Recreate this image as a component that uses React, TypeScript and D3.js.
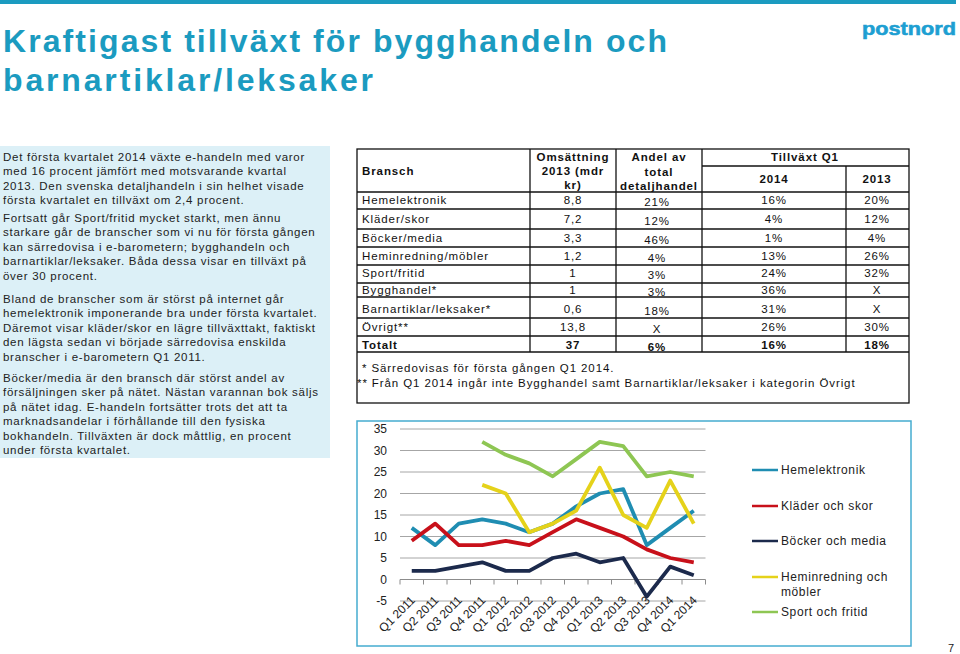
import React from "react";
import * as d3 from "d3";

const FONT = "'Liberation Sans', Arial, Helvetica, sans-serif";
const TEAL = "#1b9bc0";

const titleLines = ["Kraftigast tillväxt för bygghandeln och", "barnartiklar/leksaker"];

const paragraphs: string[][] = [
  [
    "Det första kvartalet 2014 växte e-handeln med varor",
    "med 16 procent jämfört med motsvarande kvartal",
    "2013. Den svenska detaljhandeln i sin helhet visade",
    "första kvartalet en tillväxt om 2,4 procent.",
  ],
  [
    "Fortsatt går Sport/fritid mycket starkt, men ännu",
    "starkare går de branscher som vi nu för första gången",
    "kan särredovisa i e-barometern; bygghandeln och",
    "barnartiklar/leksaker. Båda dessa visar en tillväxt på",
    "över 30 procent.",
  ],
  [
    "Bland de branscher som är störst på internet går",
    "hemelektronik imponerande bra under första kvartalet.",
    "Däremot visar kläder/skor en lägre tillväxttakt, faktiskt",
    "den lägsta sedan vi började särredovisa enskilda",
    "branscher i e-barometern Q1 2011.",
  ],
  [
    "Böcker/media är den bransch där störst andel av",
    "försäljningen sker på nätet. Nästan varannan bok säljs",
    "på nätet idag. E-handeln fortsätter trots det att ta",
    "marknadsandelar i förhållande till den fysiska",
    "bokhandeln. Tillväxten är dock måttlig, en procent",
    "under första kvartalet.",
  ],
];

// Table data
const branscher = [
  "Hemelektronik",
  "Kläder/skor",
  "Böcker/media",
  "Heminredning/möbler",
  "Sport/fritid",
  "Bygghandel*",
  "Barnartiklar/leksaker*",
  "Övrigt**",
  "Totalt",
];
const omsattning = ["8,8", "7,2", "3,3", "1,2", "1", "1", "0,6", "13,8", "37"];
const andel = ["21%", "12%", "46%", "4%", "3%", "3%", "18%", "X", "6%"];
const tillvaxt2014 = ["16%", "4%", "1%", "13%", "24%", "36%", "31%", "26%", "16%"];
const tillvaxt2013 = ["20%", "12%", "4%", "26%", "32%", "X", "X", "30%", "18%"];
const footnotes = [
  "* Särredovisas för första gången Q1 2014.",
  "** Från Q1 2014 ingår inte Bygghandel samt Barnartiklar/leksaker i kategorin Övrigt",
];

// Chart data
const quarters = [
  "Q1 2011", "Q2 2011", "Q3 2011", "Q4 2011",
  "Q1 2012", "Q2 2012", "Q3 2012", "Q4 2012",
  "Q1 2013", "Q2 2013", "Q3 2013", "Q4 2014", "Q1 2014",
];
const hemelektronik = [12, 8, 13, 14, 13, 11, 13, 17, 20, 21, 8, 12, 16];
const kladerSkor = [9, 13, 8, 8, 9, 8, 11, 14, 12, 10, 7, 5, 4];
const bockerMedia = [2, 2, 3, 4, 2, 2, 5, 6, 4, 5, -4, 3, 1];
const heminredning = [null, null, null, 22, 20, 11, 13, 16, 26, 15, 12, 23, 13];
const sportFritid = [null, null, null, 32, 29, 27, 24, 28, 32, 31, 24, 25, 24];
const yTicks = [35, 30, 25, 20, 15, 10, 5, 0, -5];
const legendLabels = [["Hemelektronik"], ["Kläder och skor"], ["Böcker och media"], ["Heminredning och", "möbler"], ["Sport och fritid"]];
const seriesColors = ["#1f8db2", "#c8101a", "#1c2a4c", "#e5d21a", "#8ec653"];

export default function App() {
  const series = [hemelektronik, kladerSkor, bockerMedia, heminredning, sportFritid];

  const x = d3.scaleBand<string>().domain(quarters).range([400, 705.5]);
  const y = d3.scaleLinear().domain([-5, 35]).range([601, 429]);
  const line = d3
    .line<number | null>()
    .defined((d) => d !== null)
    .x((_, i) => (x(quarters[i]) as number) + x.bandwidth() / 2)
    .y((d) => y(d as number));

  // table layout
  const colX = [357, 530, 616, 702, 846, 909];
  const rowY = [192, 209, 229, 247, 265, 283, 297, 318, 336, 352];
  const rowText = [200, 219, 238, 256, 273, 290, 309, 327, 345];
  const tableTop = 149;
  const tableText = { fontFamily: FONT, fontSize: 11.5, letterSpacing: 0.9, fill: "#111" } as const;

  const paraStart = [157, 218, 299, 378];
  const lineH = 14.4;

  return (
    <svg width={960} height={654} style={{ position: "absolute", left: 0, top: 0, background: "#fff" }}>
      {/* top bar */}
      <rect x={0} y={0} width={956} height={4} fill={TEAL} />
      {/* title */}
      {titleLines.map((t, i) => (
        <text
          key={i}
          x={3}
          y={52 + i * 38.5}
          fontFamily={FONT}
          fontWeight="bold"
          fontSize={32}
          fill={TEAL}
          textLength={i === 0 ? 664 : 370}
          lengthAdjust="spacing"
        >
          {t}
        </text>
      ))}
      {/* logo */}
      <text x={862} y={35} fontFamily={FONT} fontWeight={900} fontSize={19} fill="#1d9fd2" textLength={94} lengthAdjust="spacingAndGlyphs" stroke="#1d9fd2" strokeWidth={0.6}>
        postnord
      </text>

      {/* left panel */}
      <rect x={0} y={146} width={330} height={312} fill="#dcf0f7" />
      {paragraphs.map((p, pi) =>
        p.map((l, li) => (
          <text
            key={pi + "-" + li}
            x={3}
            y={paraStart[pi] + li * lineH}
            dy="0.35em"
            fontFamily={FONT}
            fontSize={11.5}
            letterSpacing={0.72}
            fill="#222"
          >
            {l}
          </text>
        ))
      )}

      {/* table */}
      <g>
        <rect x={357} y={tableTop} width={552} height={403 - tableTop} fill="none" stroke="#111" strokeWidth={1.3} />
        {rowY.map((ry, i) => (
          <line key={i} x1={357} x2={909} y1={ry} y2={ry} stroke="#111" strokeWidth={1.3} />
        ))}
        <line x1={702} x2={909} y1={166} y2={166} stroke="#111" strokeWidth={1.3} />
        {[1, 2, 3].map((c) => (
          <line key={c} x1={colX[c]} x2={colX[c]} y1={tableTop} y2={352} stroke="#111" strokeWidth={1.3} />
        ))}
        <line x1={colX[4]} x2={colX[4]} y1={166} y2={352} stroke="#111" strokeWidth={1.3} />
        {/* header */}
        <text x={362} y={171} dy="0.35em" {...tableText} fontWeight="bold">Bransch</text>
        {["Omsättning", "2013 (mdr", "kr)"].map((t, i) => (
          <text key={"o" + i} x={573} y={157 + i * 14} dy="0.35em" textAnchor="middle" {...tableText} fontWeight="bold">{t}</text>
        ))}
        {["Andel av", "total", "detaljhandel"].map((t, i) => (
          <text key={"a" + i} x={659} y={157 + i * 14.5} dy="0.35em" textAnchor="middle" {...tableText} fontWeight="bold">{t}</text>
        ))}
        <text x={805} y={157} dy="0.35em" textAnchor="middle" {...tableText} fontWeight="bold">Tillväxt Q1</text>
        <text x={774} y={179} dy="0.35em" textAnchor="middle" {...tableText} fontWeight="bold">2014</text>
        <text x={877} y={179} dy="0.35em" textAnchor="middle" {...tableText} fontWeight="bold">2013</text>
        {branscher.map((b, i) => {
          const bold = i === branscher.length - 1 ? "bold" : "normal";
          return (
            <g key={b}>
              <text x={362} y={rowText[i]} dy="0.35em" {...tableText} fontWeight={bold}>{b}</text>
              <text x={573} y={rowText[i]} dy="0.35em" textAnchor="middle" {...tableText} fontWeight={bold}>{omsattning[i]}</text>
              <text x={657} y={rowText[i] + 2} dy="0.35em" textAnchor="middle" {...tableText} fontWeight={bold}>{andel[i]}</text>
              <text x={774} y={rowText[i]} dy="0.35em" textAnchor="middle" {...tableText} fontWeight={bold}>{tillvaxt2014[i]}</text>
              <text x={877} y={rowText[i]} dy="0.35em" textAnchor="middle" {...tableText} fontWeight={bold}>{tillvaxt2013[i]}</text>
            </g>
          );
        })}
        <text x={362} y={368} dy="0.35em" {...tableText}>{footnotes[0]}</text>
        <text x={357} y={383} dy="0.35em" {...tableText}>{footnotes[1]}</text>
      </g>

      {/* chart frame */}
      <rect x={357} y={421} width={554} height={225} fill="#fff" stroke="#45acd0" strokeWidth={1.5} />
      {/* gridlines */}
      {yTicks.map((t) => (
        <g key={t}>
          <line x1={400} x2={705.5} y1={y(t)} y2={y(t)} stroke={t === 0 ? "#8c8c8c" : "#a6a6a6"} strokeWidth={1} />
          <text x={387} y={y(t)} dy="0.35em" textAnchor="end" fontFamily={FONT} fontSize={12} fill="#222">{t}</text>
        </g>
      ))}
      {/* category ticks on zero axis */}
      {quarters.concat(["end"]).map((q, i) => {
        const bx = 400 + i * x.step();
        return <line key={"t" + i} x1={bx} x2={bx} y1={y(0)} y2={y(0) + 5} stroke="#8c8c8c" strokeWidth={1} />;
      })}
      {/* x labels */}
      {quarters.map((q) => {
        const cx = (x(q) as number) + x.bandwidth() / 2 + 4;
        const cy = 601;
        return (
          <text
            key={q}
            x={cx}
            y={cy}
            textAnchor="end"
            fontFamily={FONT}
            fontSize={12}
            fill="#222"
            transform={`rotate(-45 ${cx} ${cy})`}
          >
            {q}
          </text>
        );
      })}
      {/* series */}
      {series.map((s, i) => (
        <path key={i} d={line(s) || ""} fill="none" stroke={seriesColors[i]} strokeWidth={3.8} strokeLinejoin="round" />
      ))}
      {/* legend */}
      {legendLabels.map((lbl, i) => {
        const ly = [470, 506, 541, 577, 612][i];
        return (
          <g key={i}>
            <line x1={752} x2={778} y1={ly} y2={ly} stroke={seriesColors[i]} strokeWidth={2.5} />
            {lbl.map((t, j) => (
              <text key={j} x={781} y={ly + j * 15} dy="0.35em" fontFamily={FONT} fontSize={12} letterSpacing={0.6} fill="#222">
                {t}
              </text>
            ))}
          </g>
        );
      })}
      {/* page number */}
      <text x={954} y={648} dy="0.35em" textAnchor="end" fontFamily={FONT} fontSize={11} fill="#222">7</text>
    </svg>
  );
}
